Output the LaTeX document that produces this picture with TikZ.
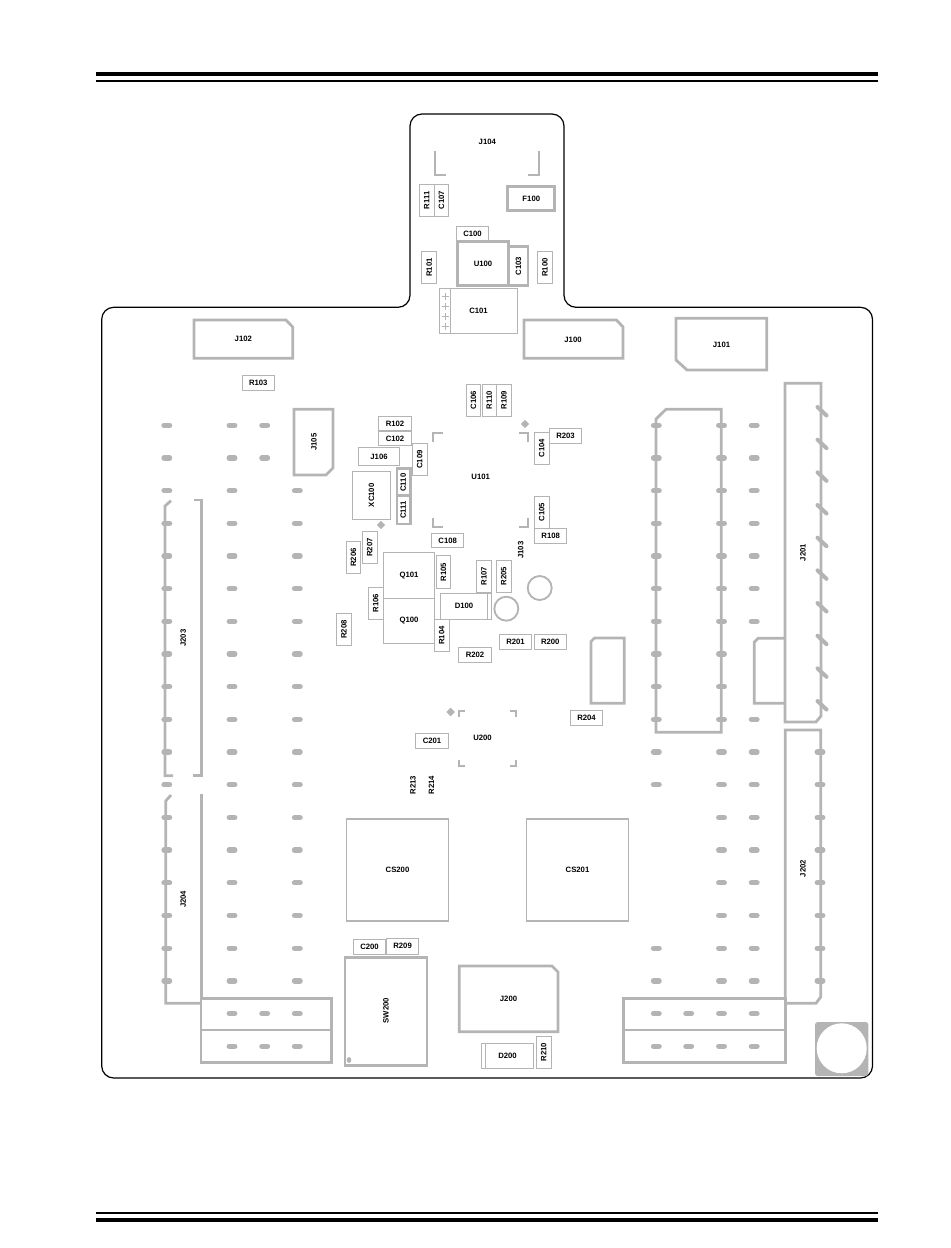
\documentclass[tikz,border=0pt]{standalone}
\usepackage{fontspec}
\setmainfont{Liberation Sans}
\usetikzlibrary{shapes, positioning, calc}
\definecolor{silk}{HTML}{B4B4B4}

\begin{document}
\begin{tikzpicture}[
    x=0.75pt, y=-0.75pt,
    % styles
    lab/.style={font=\fontsize{5.8}{7}\selectfont\bfseries, inner sep=0pt},
    wh/.style 2 args={minimum width=#1*0.75pt, minimum height=#2*0.75pt},
    part/.style={draw=silk, line width=0.75pt, inner sep=0pt, outer sep=0pt, font=\fontsize{5.8}{7}\selectfont\bfseries},
    rh/.style={part, wh={32.4}{14.6}},
    rv/.style={part, rotate=90, wh={32.4}{14.6}},
    heavy/.style={draw=silk, line width=2.1pt, inner sep=0pt, outer sep=0pt, font=\fontsize{5.8}{7}\selectfont\bfseries},
    outline/.style={draw=silk, line width=2.1pt, line join=miter},
    thinout/.style={draw=silk, line width=0.75pt},
    medout/.style={draw=silk, line width=1.4pt},
    corner/.style={draw=silk, line width=1.5pt},
    padoval/.style={draw=silk, line width=4pt, line cap=round},
    slant/.style={draw=silk, line width=3pt, line cap=round},
    marker/.style={diamond, fill=silk, inner sep=0pt, minimum size=6.5pt},
    rule/.style={fill=black}
]
    \useasboundingbox (0,0) rectangle (950,1248);

    % page rules
    \fill[rule] (96,72) rectangle (878,76.5);
    \fill[rule] (96,80) rectangle (878,82);
    \fill[rule] (96,1212) rectangle (878,1214);
    \fill[rule] (96,1217.7) rectangle (878,1222);

    % board edge
    \draw[black, line width=0.9pt, rounded corners=9pt] (410,307.3) -- (410,114) -- (564,114) -- (564,307.3)
        -- (872.5,307.3) -- (872.5,1078) -- (101.7,1078) -- (101.7,307.3) -- cycle;

    % pads, left side
    \foreach \i in {0,...,17} \draw[padoval] (164,{425.3+32.68*\i}) -- (169.6,{425.3+32.68*\i});
    \foreach \i in {0,...,19} \draw[padoval] (229.2,{425.3+32.68*\i}) -- (234.8,{425.3+32.68*\i});
    \foreach \i in {0,1,18,19} \draw[padoval] (261.9,{425.3+32.68*\i}) -- (267.5,{425.3+32.68*\i});
    \foreach \i in {2,...,19} \draw[padoval] (294.5,{425.3+32.68*\i}) -- (300.1,{425.3+32.68*\i});

    % pads, right side
    \foreach \i in {0,...,11,16,17,18,19} \draw[padoval] (653.5,{425.3+32.68*\i}) -- (659.1,{425.3+32.68*\i});
    \foreach \i in {18,19} \draw[padoval] (685.9,{425.3+32.68*\i}) -- (691.5,{425.3+32.68*\i});
    \foreach \i in {0,...,19} \draw[padoval] (718.7,{425.3+32.68*\i}) -- (724.3,{425.3+32.68*\i});
    \foreach \i in {0,...,6,9,10,...,19} \draw[padoval] (751.4,{425.3+32.68*\i}) -- (757,{425.3+32.68*\i});
    \foreach \i in {10,...,17} \draw[padoval] (817.2,{425.3+32.68*\i}) -- (822.8,{425.3+32.68*\i});

    % J201 slanted pins
    \foreach \i in {0,...,9} \draw[slant] (817.5,{407+32.67*\i}) -- (826.5,{415.5+32.67*\i});

    % connector outlines
    \draw[outline] (194,320) -- (286,320) -- (292.7,327) -- (292.7,358.3) -- (194,358.3) -- cycle;
    \node[lab] (J102) at (243.3,339.3) {J102};
    \draw[outline] (524,320) -- (616.5,320) -- (623,327) -- (623,358.3) -- (524,358.3) -- cycle;
    \node[lab] (J100) at (573,339.8) {J100};
    \draw[outline] (676,318.3) -- (766.7,318.3) -- (766.7,370) -- (687,370) -- (676,360) -- cycle;
    \node[lab] (J101) at (721.5,344.5) {J101};
    \draw[outline] (294,409.3) -- (333,409.3) -- (333,468) -- (326,475) -- (294,475) -- cycle;
    \node[lab, rotate=90] (J105) at (314,442) {J105};
    \draw[outline] (459.3,966) -- (552,966) -- (558,972) -- (558,1031.7) -- (459.3,1031.7) -- cycle;
    \node[lab] (J200) at (508.5,999) {J200};
    \draw[outline] (785,383.3) -- (821,383.3) -- (821,716) -- (816,722) -- (785,722) -- cycle;
    \node[lab, rotate=90] (J201) at (803,552.5) {J201};
    \draw[outline] (785,638.3) -- (758,638.3) -- (754.3,642) -- (754.3,703.3) -- (785,703.3);
    \draw[outline] (656,419) -- (666,409.3) -- (721.3,409.3) -- (721.3,732.3) -- (656,732.3) -- cycle;
    \draw[outline] (594.5,638) -- (624.3,638) -- (624.3,703.3) -- (591,703.3) -- (591,641.5) -- cycle;
    \draw[outline] (785.3,998.3) -- (785.3,730) -- (820.7,730) -- (820.7,997) -- (816,1003.3) -- (785.3,1003.3);
    \node[lab, rotate=90] (J202) at (803,868.5) {J202};
    \draw[outline] (623.3,998.3) rectangle (785.7,1062.3);
    \draw[outline] (623.3,1030) -- (785.7,1030);
    \draw[outline] (201,998.3) rectangle (331.7,1062.7);
    \draw[outline] (201,1030) -- (331.7,1030);

    % J203 and J204
    \draw[outline] (171,500.7) -- (165,506) -- (165,775.7) -- (173,775.7);
    \draw[outline] (194,500) -- (201.3,500) -- (201.3,775.7) -- (192.7,775.7);
    \node[lab, rotate=90] (J203) at (183.3,638) {J203};
    \draw[outline] (171,795) -- (165.7,801) -- (165.7,1003.3) -- (201.3,1003.3);
    \draw[outline] (201.3,794) -- (201.3,998.3);
    \node[lab, rotate=90] (J204) at (183.3,899.3) {J204};

    % tab: J104, U100 and friends
    \node[lab] (J104) at (487.3,141.5) {J104};
    \draw[medout] (435,150.7) -- (435,175) -- (446,175);
    \draw[medout] (539,150.7) -- (539,175) -- (528.3,175);
    \node[rv] (R111) at (426.8,200.3) {R111};
    \node[rv, minimum height=14.4*0.75pt] (C107) at (441.5,200.3) {C107};
    \node[heavy, line width=2.5pt, wh={47}{23.5}] (F100) at (531.3,198.5) {F100};
    \node[rh] (C100) at (472.5,233.7) {C100};
    \node[rv] (R101) at (429.2,267.5) {R101};
    \node[rv] (R100) at (545,267.5) {R100};
    \node[heavy, line width=2.5pt, wh={50.5}{44}] (U100) at (483,263.7) {U100};
    \node[heavy, rotate=90, wh={39.5}{19}] (C103) at (518.5,266) {C103};
    \node[part, wh={78.4}{45}] (C101) at (478.5,310.8) {};
    \node[lab] at (C101) {C101};
    \draw[thinout] (450.3,288.3) -- (450.3,333.3);
    \foreach \y in {296.3,306.3,316.3,326} {
        \draw[thinout] (441.5,\y) -- (448.5,\y);
        \draw[thinout] (445,\y-3.5) -- (445,\y+3.5);
    }

    % small parts around U101
    \node[rh] (R103) at (258.3,383) {R103};
    \node[rv, minimum height=14.4*0.75pt] (C106) at (473.5,400.3) {C106};
    \node[rv, minimum height=14*0.75pt] (R110) at (489.3,400.3) {R110};
    \node[rv] (R109) at (504,400.3) {R109};
    \node[part, wh={33.4}{14.4}] (R102) at (395,423.5) {R102};
    \node[part, wh={33.4}{14}] (C102) at (395,438.7) {C102};
    \node[rv] (C109) at (419.7,459.5) {C109};
    \node[part, wh={41.4}{18.4}] (J106) at (379,456.5) {J106};
    \node[part, wh={38.4}{48}] (XC100) at (371.5,495.3) {};
    \node[lab, rotate=90] at (XC100) {XC100};
    \node[heavy, wh={13.7}{55.7}] (C110box) at (403.8,496.2) {};
    \draw[heavy] (397,495.7) -- (410.7,495.7);
    \node[lab, rotate=90] (C110) at (403.3,482.7) {C110};
    \node[lab, rotate=90] (C111) at (403.3,510) {C111};
    \node[lab] (U101) at (480.7,477.3) {U101};
    \draw[corner] (432.7,441.5) -- (432.7,433) -- (442.7,433);
    \draw[corner] (518.7,433) -- (528.3,433) -- (528.3,441.5);
    \draw[corner] (432.7,518.3) -- (432.7,526.7) -- (442.7,526.7);
    \draw[corner] (518.7,526.7) -- (528.3,526.7) -- (528.3,518.3);
    \node[marker] (D1) at (525,424) {};
    \node[marker] (D2) at (381,525) {};
    \node[rv] (C104) at (541.7,448.3) {C104};
    \node[rh] (R203) at (565.5,436) {R203};
    \node[rv] (C105) at (541.7,512.3) {C105};
    \node[rh] (R108) at (550.7,535.8) {R108};
    \node[lab, rotate=90] (J103) at (520.7,550) {J103};
    \node[rh] (C108) at (447.7,540.5) {C108};

    % Q100, Q101, D100
    \node[rv] (R207) at (369.8,547.5) {R207};
    \node[rv] (R206) at (353.5,557.5) {R206};
    \node[part, wh={51.4}{45.3}] (Q101) at (409,575.6) {Q101};
    \node[part, wh={51.4}{45.4}] (Q100) at (409,621) {Q100};
    \node[rv] (R105) at (443.5,572) {R105};
    \node[rv] (R106) at (375.8,603.3) {R106};
    \node[rv] (R107) at (484,576.3) {R107};
    \node[rv] (R205) at (503.7,576.3) {R205};
    \node[part, wh={51.4}{26}] (D100) at (466,606.3) {};
    \node[lab] at (464,606.3) {D100};
    \draw[thinout] (487.3,593.3) -- (487.3,619.3);
    \node[rv] (R104) at (441.8,635.5) {R104};
    \node[rv] (R208) at (344,629.5) {R208};
    \node[rh] (R201) at (515.5,641.8) {R201};
    \node[rh] (R200) at (550.3,641.8) {R200};
    \node[part, wh={33.4}{15}] (R202) at (475,654.8) {R202};
    \draw[medout] (539.7,588) circle (12);
    \draw[medout] (506.3,608.7) circle (12);

    % U200 area
    \node[rh] (R204) at (586.5,718) {R204};
    \node[part, wh={33.4}{15}] (C201) at (432,740.5) {C201};
    \node[lab] (U200) at (482.5,738) {U200};
    \node[marker] (D3) at (450.7,712) {};
    \draw[corner] (458.7,717) -- (458.7,710.7) -- (465,710.7);
    \draw[corner] (509.5,710.7) -- (515.7,710.7) -- (515.7,717);
    \draw[corner] (458.7,760) -- (458.7,766) -- (465,766);
    \draw[corner] (509.5,766) -- (515.7,766) -- (515.7,760);
    \node[lab, rotate=90] (R213) at (413,785) {R213};
    \node[lab, rotate=90] (R214) at (431.3,785) {R214};

    % crystals, switch, lower parts
    \node[part, line width=1.4pt, wh={102}{102}] (CS200) at (397.5,870.3) {CS200};
    \node[part, line width=1.4pt, wh={102}{102}] (CS201) at (577.5,870.3) {CS201};
    \node[rh] (C200) at (369.5,946.8) {C200};
    \node[part, wh={32.2}{15.7}] (R209) at (402.6,946.2) {R209};
    \node[heavy, wh={82}{108}] (SW200) at (386,1011.2) {};
    \node[lab, rotate=90] at (386,1010.5) {SW200};
    \fill[silk] (349,1060) ellipse (2.3 and 3);
    \node[part, wh={52.4}{25}] (D200) at (507.5,1055.8) {};
    \node[lab] at (507.5,1056) {D200};
    \draw[thinout] (485.3,1043.3) -- (485.3,1068.3);
    \node[rv, minimum width=32*0.75pt] (R210) at (543.7,1052.3) {R210};

    % mounting corner
    \fill[silk, rounded corners=2pt] (815,1022) rectangle (868.3,1076);
    \fill[white] (841.7,1048.3) circle (25);
\end{tikzpicture}
\end{document}
